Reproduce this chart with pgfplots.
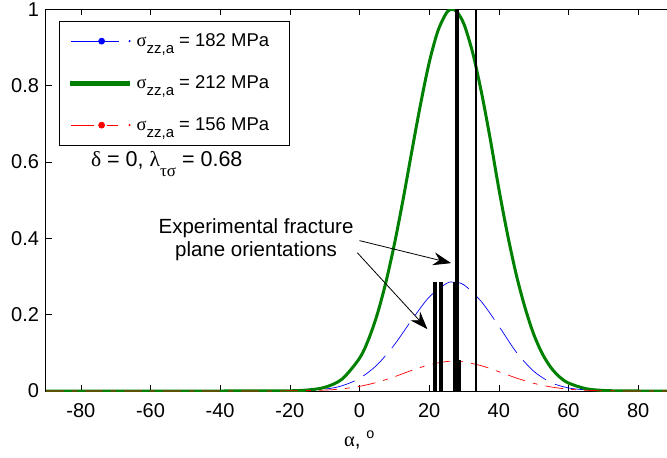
\documentclass[border=0pt]{standalone}
\usepackage{fontspec}
\setmainfont{Liberation Sans}
\newfontfamily\gr{Liberation Serif}
\usepackage{pgfplots}
\pgfplotsset{compat=1.18}
\usetikzlibrary{arrows.meta}
\definecolor{mblue}{RGB}{0,0,255}
\definecolor{mgreen}{RGB}{0,128,0}
\definecolor{mred}{RGB}{255,0,0}
\newcommand{\sub}[1]{\raisebox{-0.38em}{\fontsize{15}{15}\selectfont #1}}

\begin{document}
\begin{tikzpicture}
\fontsize{20.5}{24}\selectfont
\begin{axis}[scale only axis, width=627pt, height=381.7pt,
  xmin=-90, xmax=90, ymin=0, ymax=1,
  xtick={-80,-60,-40,-20,0,20,40,60,80}, xticklabels={-80,-60,-40,-20,0,20,40,60,80},
  ytick={0,0.2,0.4,0.6,0.8,1}, yticklabels={0,0.2,0.4,0.6,0.8,1},
  tick align=inside, major tick length=6pt, tick style={black,line width=0.6pt},
  axis line style={black,line width=1pt},
  tick label style={font=\fontsize{20}{24}\selectfont},
  xticklabel style={yshift=-6pt},
  xlabel={{\gr α}, \textsuperscript{o}},
  xlabel style={at={(axis description cs:0.5,0)}, anchor=base, yshift=-55pt,
    font=\fontsize{20.5}{24}\selectfont},
  legend cell align=left,
  legend style={at={(axis description cs:0.0203,0.970)}, anchor=north west,
    draw=black, line width=0.8pt, fill=white, inner xsep=11pt, inner ysep=12pt,
    row sep=26pt, column sep=0pt, nodes={inner sep=0pt},
    font=\fontsize{18.5}{22}\selectfont}]

\addplot[mblue, line width=0.7pt, dash pattern=on 30pt off 10pt, smooth,
  legend image code/.code={\fill[fill=mblue] (0pt,-0.3pt) rectangle (47pt,0.3pt);
    \fill[fill=mblue] (30pt,0pt) circle (3pt); \fill[fill=mblue] (58pt,0pt) circle (0.7pt);
    \path[draw=none,fill=none] (0pt,-8pt) rectangle (65pt,8pt);}]
  coordinates {(-90,0) (-40,0) (-20,0.0005) (-10,0.005) (-5,0.0138) (0,0.033) (5,0.068) (10,0.121)
  (15,0.186) (20,0.246) (25,0.282) (27,0.285) (30,0.278) (35,0.234) (40,0.17) (45,0.102)
  (50,0.052) (55,0.022) (60,0.008) (65,0.003) (70,0.001) (80,0) (90,0)};
\addlegendentry{{\gr σ}\sub{zz,a} = 182 MPa\hspace*{9pt}}

\addplot[mgreen, line width=3pt, smooth,
  legend image code/.code={\fill[fill=mgreen] (0pt,-1.1pt) rectangle (57pt,1.1pt);
    \path[draw=none,fill=none] (0pt,-8pt) rectangle (65pt,8pt);}]
  coordinates {(-90,0) (-40,0) (-25,0.0001) (-20,0.0005) (-15,0.0025) (-10,0.0095) (-5,0.0312)
  (0,0.0857) (2.5,0.133) (5,0.198) (7.5,0.282) (10,0.384) (12.5,0.501) (15,0.627)
  (17.5,0.75) (20,0.86) (22.5,0.943) (25,0.991) (26.6,1) (28,0.993) (30,0.961)
  (32.5,0.886) (35,0.783) (37.5,0.662) (40,0.53) (42.5,0.41) (45,0.305) (47.5,0.219)
  (50,0.149) (52.5,0.0974) (55,0.0608) (57.5,0.0363) (60,0.0208) (65,0.006) (70,0.0014)
  (75,0.0003) (80,0) (90,0)};
\addlegendentry{{\gr σ}\sub{zz,a} = 212 MPa\hspace*{9pt}}

\addplot[mred, line width=0.7pt, dash pattern=on 18pt off 8pt on 5pt off 8pt, smooth,
  legend image code/.code={\fill[fill=mred] (0pt,-0.3pt) rectangle (22pt,0.3pt);
    \fill[fill=mred] (36pt,-0.3pt) rectangle (46pt,0.3pt);
    \fill[fill=mred] (30pt,0pt) circle (3pt); \fill[fill=mred] (58pt,0pt) circle (0.7pt);
    \path[draw=none,fill=none] (0pt,-8pt) rectangle (65pt,8pt);}]
  coordinates {(-90,0) (-30,0) (-20,0.0006) (-10,0.0024) (-5,0.0057) (0,0.0121) (5,0.0227)
  (10,0.0373) (15,0.054) (20,0.0688) (25,0.0772) (27,0.078) (30,0.0762) (35,0.0662)
  (40,0.0507) (45,0.0341) (50,0.0202) (55,0.0106) (60,0.0048) (65,0.002) (70,0.0007)
  (80,0) (90,0)};
\addlegendentry{{\gr σ}\sub{zz,a} = 156 MPa\hspace*{9pt}}

% experimental fracture plane orientations
\addplot[black, ycomb, line width=3.6pt, forget plot] coordinates {(21.6,0.285) (23.35,0.285) (27.3,0.285)};
\addplot[black, ycomb, line width=3.5pt, forget plot] coordinates {(28.55,0.082)};
\addplot[black, ycomb, line width=3.6pt, forget plot] coordinates {(28.0,1)};
\addplot[black, ycomb, line width=2.8pt, forget plot] coordinates {(33.43,1)};

\draw[black, line width=0.8pt, -{Stealth[length=18pt,width=13pt,inset=6pt]}]
  (axis cs:0,0.394) -- (axis cs:26.3,0.335);
\draw[black, line width=0.8pt, -{Stealth[length=18pt,width=13pt,inset=6pt]}]
  (axis cs:-0.6,0.362) -- (axis cs:19.5,0.162);
\node[align=center, font=\fontsize{20.5}{23}\selectfont] at (axis cs:-29.7,0.396)
  {Experimental fracture\\plane orientations};
\node[anchor=base west, inner sep=0pt, font=\fontsize{21.5}{25}\selectfont] at (axis cs:-77.1,0.588)
  {{\gr δ} = 0, {\gr λ}\raisebox{-0.45em}{\fontsize{17}{17}\selectfont\gr τσ} = 0.68};
\end{axis}
\pgfresetboundingbox
\useasboundingbox (-46pt,-67pt) rectangle (621pt,391pt);
\end{tikzpicture}
\end{document}
